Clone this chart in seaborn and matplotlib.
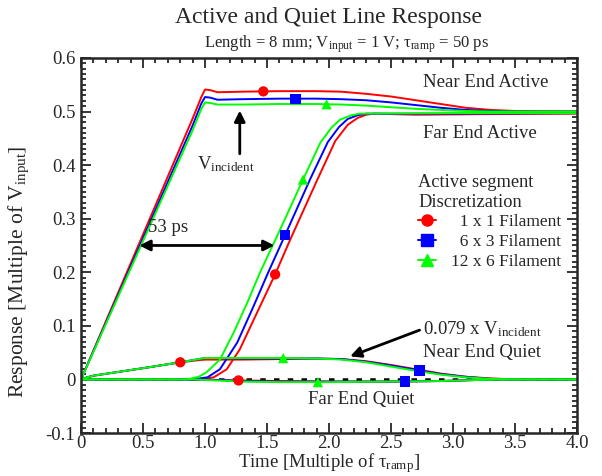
import numpy as np
import pandas as pd
import seaborn as sns
import matplotlib
matplotlib.use("Agg")
from matplotlib import pyplot as plt
from matplotlib.lines import Line2D
from matplotlib.ticker import MultipleLocator, FuncFormatter

# ---- data (time in multiples of tau_ramp, response in multiples of V_input) ----
discs = ["1 x 1", "6 x 3", "12 x 6"]

# near end active
nea_t = [0, 0.9, 0.97, 1.0, 1.04, 1.1, 1.3, 1.6, 1.9, 2.1, 2.3, 2.5, 2.7, 2.9, 3.1, 3.3, 3.5, 4.0]
nea_red = [0, 0.487, 0.527, 0.541, 0.540, 0.536, 0.537, 0.538, 0.538, 0.537, 0.533, 0.528, 0.521, 0.514, 0.507, 0.503, 0.501, 0.500]
nea_blue = [0, 0.474, 0.515, 0.527, 0.526, 0.522, 0.523, 0.524, 0.524, 0.523, 0.521, 0.517, 0.512, 0.507, 0.503, 0.501, 0.500, 0.500]
nea_green = [0, 0.465, 0.505, 0.517, 0.516, 0.513, 0.513, 0.514, 0.514, 0.513, 0.511, 0.508, 0.505, 0.503, 0.501, 0.500, 0.500, 0.500]

# far end active
fea_red_t = [0, 0.95, 1.07, 1.175, 1.28, 1.42, 1.565, 1.685, 1.9, 2.05, 2.15, 2.23, 2.30, 2.36, 2.7, 3.2, 4.0]
fea_red = [0, 0, 0.004, 0.019, 0.056, 0.125, 0.196, 0.260, 0.370, 0.445, 0.475, 0.488, 0.494, 0.496, 0.494, 0.495, 0.496]
fea_blue_t = [0, 0.9, 1.02, 1.12, 1.26, 1.39, 1.51, 1.645, 1.85, 1.99, 2.08, 2.15, 2.23, 2.30, 3.0, 4.0]
fea_blue = [0, 0, 0.004, 0.019, 0.069, 0.136, 0.200, 0.269, 0.375, 0.443, 0.471, 0.486, 0.493, 0.496, 0.496, 0.497]
fea_green_t = [0, 0.85, 0.95, 1.01, 1.12, 1.23, 1.34, 1.44, 1.60, 1.79, 1.93, 2.02, 2.09, 2.18, 2.25, 3.0, 4.0]
fea_green = [0, 0, 0.005, 0.013, 0.037, 0.087, 0.143, 0.198, 0.277, 0.373, 0.442, 0.470, 0.485, 0.493, 0.496, 0.497, 0.497]

# near end quiet
neq_t = [0, 0.05, 0.1, 0.3, 0.5, 0.8, 0.95, 1.0, 1.1, 1.3, 1.6, 1.9, 2.1, 2.3, 2.5, 2.7, 2.9, 3.1, 3.3, 3.5, 4.0]
neq_red = [0, 0.004, 0.007, 0.014, 0.021, 0.032, 0.036, 0.037, 0.037, 0.037, 0.038, 0.039, 0.038, 0.034, 0.027, 0.019, 0.011, 0.005, 0.002, 0.0, 0]
neq_blue = [0, 0.004, 0.007, 0.014, 0.021, 0.032, 0.038, 0.040, 0.040, 0.039, 0.039, 0.039, 0.038, 0.033, 0.026, 0.018, 0.010, 0.005, 0.001, 0.0, 0]
neq_green = [0, 0.004, 0.007, 0.014, 0.021, 0.032, 0.038, 0.040, 0.040, 0.040, 0.040, 0.039, 0.037, 0.032, 0.024, 0.016, 0.009, 0.004, 0.001, 0.0, 0]

# far end quiet
feq_t = [0, 0.9, 1.1, 1.3, 1.6, 2.0, 2.5, 2.9, 3.2, 3.5, 4.0]
feq_red = [0, 0, -0.001, -0.002, -0.003, -0.004, -0.004, -0.003, -0.001, 0, 0]
feq_blue = [0, 0, -0.001, -0.003, -0.004, -0.004, -0.004, -0.003, -0.001, 0, 0]
feq_green = [0, 0, -0.002, -0.004, -0.005, -0.005, -0.004, -0.003, -0.001, 0, 0]

# where a single marker sits on each curve (time)
mark_red = {"nea": 1.47, "fea": 1.565, "neq": 0.80, "feq": 1.27}
mark_blue = {"nea": 1.73, "fea": 1.645, "neq": 2.73, "feq": 2.61}
mark_green = {"nea": 1.98, "fea": 1.79, "neq": 1.63, "feq": 1.91}

# ---- build long table ----
curves = {
    ("nea", "1 x 1"): (nea_t, nea_red),
    ("nea", "6 x 3"): (nea_t, nea_blue),
    ("nea", "12 x 6"): (nea_t, nea_green),
    ("fea", "1 x 1"): (fea_red_t, fea_red),
    ("fea", "6 x 3"): (fea_blue_t, fea_blue),
    ("fea", "12 x 6"): (fea_green_t, fea_green),
    ("neq", "1 x 1"): (neq_t, neq_red),
    ("neq", "6 x 3"): (neq_t, neq_blue),
    ("neq", "12 x 6"): (neq_t, neq_green),
    ("feq", "1 x 1"): (feq_t, feq_red),
    ("feq", "6 x 3"): (feq_t, feq_blue),
    ("feq", "12 x 6"): (feq_t, feq_green),
}
frames = []
for (name, disc), (t, v) in curves.items():
    frames.append(pd.DataFrame({"t": t, "v": v, "curve": name + disc, "disc": disc}))
df = pd.concat(frames, ignore_index=True)

marks = []
for disc, mk in zip(discs, [mark_red, mark_blue, mark_green]):
    for name, tm in mk.items():
        t, v = curves[(name, disc)]
        marks.append({"t": tm, "v": float(np.interp(tm, t, v)), "disc": disc})
mk_df = pd.DataFrame(marks)

# ---- style ----
sns.set_style("ticks")
plt.rcParams["font.family"] = ["Liberation Serif", "DejaVu Serif"]
plt.rcParams["mathtext.default"] = "regular"
plt.rcParams["xtick.direction"] = "in"
plt.rcParams["ytick.direction"] = "in"

palette = {"1 x 1": "#ff0000", "6 x 3": "#0000ff", "12 x 6": "#00ff00"}
markers = {"1 x 1": "o", "6 x 3": "s", "12 x 6": "^"}

fig = plt.figure(figsize=(6.02, 4.76), dpi=100)
ax = fig.add_axes([0.1346, 0.0903, 0.824, 0.788])

ax.axhline(0, color="black", lw=1.8, ls=(0, (2.2, 3.3)), zorder=1)

sns.lineplot(data=df, x="t", y="v", hue="disc", units="curve", estimator=None,
             sort=False, palette=palette, hue_order=discs, lw=1.4,
             legend=False, ax=ax, zorder=2)
sns.scatterplot(data=mk_df, x="t", y="v", hue="disc", style="disc",
                hue_order=discs, style_order=discs, palette=palette,
                markers=markers, s=55, edgecolor="none", legend=False,
                ax=ax, zorder=3)

ax.set_xlim(0, 4)
ax.set_ylim(-0.1, 0.6)
ax.xaxis.set_major_locator(MultipleLocator(0.5))
ax.xaxis.set_minor_locator(MultipleLocator(0.1))
ax.yaxis.set_major_locator(MultipleLocator(0.1))
ax.yaxis.set_minor_locator(MultipleLocator(0.01))
ax.xaxis.set_major_formatter(FuncFormatter(lambda x, p: "0" if abs(x) < 1e-9 else f"{x:.1f}"))
ax.yaxis.set_major_formatter(FuncFormatter(lambda y, p: "0" if abs(y) < 1e-9 else f"{y:.1f}"))
ax.tick_params(which="both", top=True, right=True, labelsize=13.5, width=1.3)
ax.tick_params(axis="x", which="major", pad=1.5)
ax.tick_params(axis="y", which="major", pad=4)
ax.tick_params(which="major", length=7)
ax.tick_params(which="minor", length=3.5)
for s in ax.spines.values():
    s.set_linewidth(1.8)

ax.set_xlabel("Time [Multiple of τ$_{ramp}$]", fontsize=13.5)
ax.set_ylabel("Response [Multiple of V$_{input}$]", fontsize=15.5)
ax.xaxis.set_label_coords(0.5, -0.047)
ax.yaxis.set_label_coords(-0.1, 0.43)

fig.text(0.5465, 0.964, "Active and Quiet Line Response", ha="center", va="center", fontsize=17)
fig.text(0.575, 0.908, "Length = 8 mm; V$_{input}$ = 1 V; τ$_{ramp}$ = 50 ps",
         ha="center", va="center", fontsize=12)

# annotations
ax.text(2.76, 0.554, "Near End Active", fontsize=13.5, va="center")
ax.text(2.76, 0.459, "Far End Active", fontsize=13.5, va="center")
ax.text(0.935, 0.401, "V$_{incident}$", fontsize=13.5, va="center")
ax.annotate("", xy=(1.28, 0.507), xytext=(1.28, 0.416),
            arrowprops=dict(arrowstyle="-|>", color="black", lw=2, mutation_scale=16))
ax.text(0.54, 0.283, "53 ps", fontsize=13.5, va="center")
ax.annotate("", xy=(0.47, 0.25), xytext=(1.56, 0.25),
            arrowprops=dict(arrowstyle="<|-|>", color="black", lw=2, mutation_scale=16,
                            shrinkA=0, shrinkB=0))
ax.text(2.76, 0.093, "0.079 x V$_{incident}$", fontsize=13.5, va="center")
ax.annotate("", xy=(2.17, 0.043), xytext=(2.73, 0.092),
            arrowprops=dict(arrowstyle="-|>", color="black", lw=2, mutation_scale=16,
                            shrinkA=0, shrinkB=0))
ax.text(2.76, 0.051, "Near End Quiet", fontsize=13.5, va="center")
ax.text(1.83, -0.037, "Far End Quiet", fontsize=13.5, va="center")

handles = [Line2D([], [], color=palette[d], marker=markers[d], markersize=8, lw=1.4)
           for d in discs]
labels = ["  1 x 1 Filament", "  6 x 3 Filament", "12 x 6 Filament"]
leg = ax.legend(handles, labels, title="Active segment\nDiscretization",
                loc="upper left", bbox_to_anchor=(0.68, 0.69), frameon=False,
                fontsize=12.5, title_fontsize=13.2, handlelength=1.0,
                handletextpad=0.9, labelspacing=0.2, borderpad=0.0,
                borderaxespad=0.0)
leg._legend_box.align = "left"

fig.savefig("out.png", dpi=100)
